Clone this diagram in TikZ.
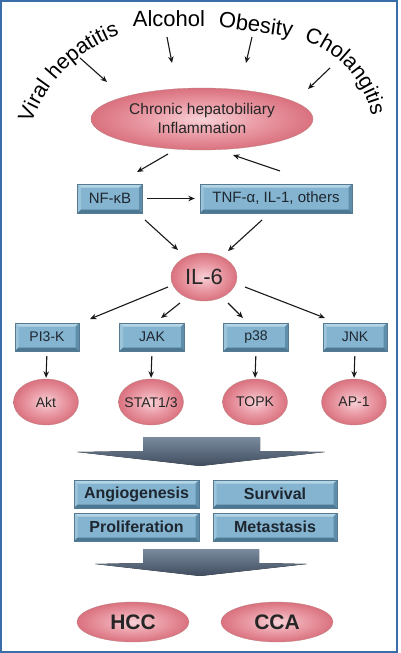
\documentclass[tikz,border=0pt]{standalone}
\usepackage{fontspec}
\setmainfont{Liberation Sans}
\usetikzlibrary{arrows.meta,shapes.geometric,decorations.text}
\definecolor{framec}{HTML}{3A6EA8}
\definecolor{bvface}{HTML}{84B4CF}
\definecolor{bvtop}{HTML}{B4D5E6}
\definecolor{bvleft}{HTML}{9CC4DA}
\definecolor{bvright}{HTML}{5F8EAB}
\definecolor{bvbot}{HTML}{4C7893}
\definecolor{bvline}{HTML}{557A92}
\definecolor{txtdark}{HTML}{1E2630}
\definecolor{chevtop}{HTML}{7A8B9E}
\definecolor{chevbot}{HTML}{3F4C5E}
\pgfdeclareradialshading{redglow}{\pgfpoint{0bp}{0bp}}{rgb(0bp)=(0.97,0.82,0.84); rgb(12bp)=(0.92,0.62,0.66); rgb(32bp)=(0.82,0.35,0.41); rgb(50bp)=(0.70,0.16,0.22)}
\newcommand{\bevbox}[7]{%
  \pgfmathsetmacro{\myxa}{#2-#4/2}\pgfmathsetmacro{\myxb}{#2+#4/2}%
  \pgfmathsetmacro{\myya}{#3-#5/2}\pgfmathsetmacro{\myyb}{#3+#5/2}%
  \fill[bvface] (\myxa,\myya) rectangle (\myxb,\myyb);
  \fill[bvtop] (\myxa,\myya) -- (\myxb,\myya) -- (\myxb-3.5,\myya+3.5) -- (\myxa+3.5,\myya+3.5) -- cycle;
  \fill[bvleft] (\myxa,\myya) -- (\myxa+3.5,\myya+3.5) -- (\myxa+3.5,\myyb-3.5) -- (\myxa,\myyb) -- cycle;
  \fill[bvright] (\myxb,\myya) -- (\myxb,\myyb) -- (\myxb-3.5,\myyb-3.5) -- (\myxb-3.5,\myya+3.5) -- cycle;
  \fill[bvbot] (\myxa,\myyb) -- (\myxb,\myyb) -- (\myxb-3.5,\myyb-3.5) -- (\myxa+3.5,\myyb-3.5) -- cycle;
  \draw[bvline, line width=0.4pt] (\myxa,\myya) rectangle (\myxb,\myyb);
  \node[boxtext, #7, minimum width=#4pt, minimum height=#5pt] (#1) at (#2,#3) {#6};
}
\tikzset{
  redell/.style={ellipse, shade, shading=redglow, inner sep=0pt, draw=red!45!black!50, line width=0.3pt},
  elltxt/.style={inner sep=0pt, text=black!85},
  word/.style={inner sep=0pt, font=\fontsize{22}{26}\selectfont, text=black},
  arr/.style={-{Stealth[length=6.5pt,width=5.5pt]}, line width=1.1pt, draw=black!90},
  boxtext/.style={inner sep=0pt, text=txtdark},
  fA/.style={font=\fontsize{15}{18}\selectfont},
  fB/.style={font=\fontsize{14}{17}\selectfont},
  fC/.style={font=\bfseries\fontsize{16}{19}\selectfont},
  chev/.style={top color=chevtop, bottom color=chevbot}
}
\begin{document}
\begin{tikzpicture}[x=1pt,y=-1pt]
\useasboundingbox (0,0) rectangle (400,653);
\fill[white] (0,0) rectangle (400,653);
\draw[framec, line width=2pt] (1.2,1.2) rectangle (397,651.5);

% risk factors
\path[decorate, decoration={text along path, text={|\fontsize{21.5}{26}\selectfont|Viral hepatitis}, text align=center}] (29.4,128.85) arc[start angle=162.4, end angle=107.6, radius=147pt];
\node[word, anchor=base] (alc) at (169,27) {Alcohol};
\node[word, anchor=base, rotate=-8] (obe) at (255,32) {Obesity};
\path[decorate, decoration={text along path, text={|\fontsize{21.5}{26}\selectfont|Cholangitis}, text align=center}] (298.4,39.1) arc[start angle=76, end angle=8, radius=99pt];

% inflammation
\node[redell, minimum width=222pt, minimum height=62pt] (infl) at (202,119) {};
\node[elltxt, font=\fontsize{15.5}{19}\selectfont, align=center] (inflt) at (202,118) {Chronic hepatobiliary\\Inflammation};

\coordinate (w1s) at (80,58);   \coordinate (w1e) at (107,82);
\coordinate (w2s) at (167,37);  \coordinate (w2e) at (172,63);
\coordinate (w3s) at (252,37);  \coordinate (w3e) at (246,63);
\coordinate (w4s) at (330,68);  \coordinate (w4e) at (308,89);
\draw[arr] (w1s) -- (w1e);
\draw[arr] (w2s) -- (w2e);
\draw[arr] (w3s) -- (w3e);
\draw[arr] (w4s) -- (w4e);

% NF-kB and TNF
\bevbox{nfkb}{110}{198.5}{65}{29}{NF-κB}{fA}
\bevbox{tnf}{276}{198.5}{152}{29}{TNF-α, IL-1, others}{fA}

\coordinate (i1s) at (168,154); \coordinate (i1e) at (137,172);
\coordinate (i2s) at (280,171); \coordinate (i2e) at (233,155);
\draw[arr] (i1s) -- (i1e);
\draw[arr] (i2s) -- (i2e);
\draw[arr, shorten <=4pt, shorten >=5pt] (nfkb.east) -- (tnf.west);

% IL-6
\node[redell, minimum width=66pt, minimum height=48pt] (il6) at (204,277) {};
\node[elltxt, font=\fontsize{22}{26}\selectfont] (il6t) at (204,277) {IL-6};
\coordinate (n1s) at (145,220); \coordinate (n1e) at (178,250);
\coordinate (n2s) at (262,220); \coordinate (n2e) at (228,251);
\draw[arr] (n1s) -- (n1e);
\draw[arr] (n2s) -- (n2e);

% kinases
\bevbox{pik}{47}{337}{64}{28}{PI3-K}{fB}
\bevbox{jak}{152}{337}{65}{28}{JAK}{fB}
\bevbox{p38}{256}{337}{65}{28}{p38}{fB}
\bevbox{jnk}{355}{337}{64}{28}{JNK}{fB}

\coordinate (k1s) at (168,287); \coordinate (k1e) at (90,319);
\coordinate (k2s) at (180,303); \coordinate (k2e) at (161,318);
\coordinate (k3s) at (228,303); \coordinate (k3e) at (243,318);
\coordinate (k4s) at (245,287); \coordinate (k4e) at (325,318);
\draw[arr] (k1s) -- (k1e);
\draw[arr] (k2s) -- (k2e);
\draw[arr] (k3s) -- (k3e);
\draw[arr] (k4s) -- (k4e);

% effectors
\node[redell, minimum width=65pt, minimum height=46pt] (akt) at (46,402) {};
\node[redell, minimum width=65pt, minimum height=46pt] (stat) at (151,402) {};
\node[redell, minimum width=65pt, minimum height=46pt] (topk) at (255,402) {};
\node[redell, minimum width=65pt, minimum height=46pt] (ap1) at (354,402) {};
\node[elltxt, font=\fontsize{14}{17}\selectfont] at (akt) {Akt};
\node[elltxt, font=\fontsize{14}{17}\selectfont] at (stat) {STAT1/3};
\node[elltxt, font=\fontsize{14}{17}\selectfont] at (topk) {TOPK};
\node[elltxt, font=\fontsize{14}{17}\selectfont] at (ap1) {AP-1};
\draw[arr, shorten <=5pt, shorten >=1pt] (pik.south) -- (akt.north);
\draw[arr, shorten <=5pt, shorten >=1pt] (jak.south) -- (stat.north);
\draw[arr, shorten <=5pt, shorten >=1pt] (p38.south) -- (topk.north);
\draw[arr, shorten <=5pt, shorten >=1pt] (jnk.south) -- (ap1.north);

% chevron 1
\fill[chev] (143,437) -- (260,437) -- (260,451) -- (325,452) -- (200,466) -- (77,452) -- (143,451) -- cycle;

% outcomes
\bevbox{ang}{136.5}{494}{125}{28}{Angiogenesis}{fC}
\bevbox{sur}{275}{494}{124}{28}{Survival}{fC}
\bevbox{pro}{136.5}{527}{125}{28}{Proliferation}{fC}
\bevbox{met}{275}{527}{124}{28}{Metastasis}{fC}

% chevron 2
\fill[chev] (143,549) -- (259,549) -- (259,563) -- (307,564) -- (200,576) -- (95,564) -- (143,563) -- cycle;

% cancers
\node[redell, minimum width=112pt, minimum height=40pt] (hcc) at (133,622) {};
\node[redell, minimum width=112pt, minimum height=40pt] (cca) at (277,622) {};
\node[elltxt, font=\bfseries\fontsize{21}{25}\selectfont] at (hcc) {HCC};
\node[elltxt, font=\bfseries\fontsize{21}{25}\selectfont] at (cca) {CCA};
\end{tikzpicture}
\end{document}
